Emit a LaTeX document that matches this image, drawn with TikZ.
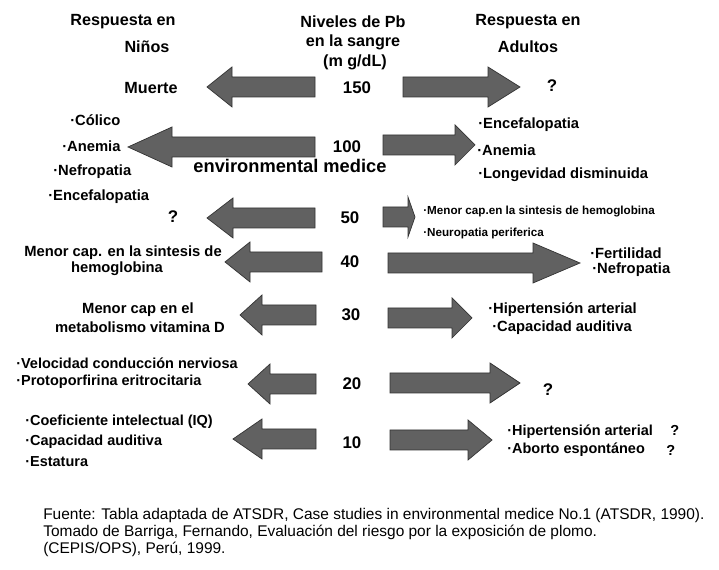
\documentclass[tikz,border=0pt]{standalone}
\usepackage{fontspec}
\setmainfont{Liberation Sans}
\usetikzlibrary{positioning}

\begin{document}
\begin{tikzpicture}[x=0.025cm,y=-0.025cm,every node/.style={inner sep=0pt}]

	\tikzstyle{title}=[font=\fontsize{11.5}{13}\selectfont\bfseries]
	\tikzstyle{level}=[font=\fontsize{12}{14}\selectfont\bfseries]
	\tikzstyle{item}=[font=\fontsize{10.5}{12}\selectfont\bfseries,anchor=west]
	\tikzstyle{small item}=[item,font=\fontsize{8.3}{10}\selectfont\bfseries]
	\tikzstyle{mid item}=[item,font=\fontsize{10.3}{11}\selectfont\bfseries]
	\tikzstyle{blockarrow}=[fill=black!62,draw=black!80,line width=0.5pt]

	\useasboundingbox (0,0) rectangle (719,570);

	% headings
	\node [title] (kids) at (123,22) {Respuesta en};
	\node [title] (kids2) at (147,47) {Niños};
	\node [title] (pb) at (353,22) {Niveles de Pb};
	\node [title] (pb2) at (353,42) {en la sangre};
	\node [title] (pb3) at (355,62) {(m g/dL)};
	\node [title] (adults) at (528,22) {Respuesta en};
	\node [title] (adults2) at (528,47) {Adultos};

	% levels
	\node [level] (l150) at (357,88) {150};
	\node [level] (l100) at (347,147) {100};
	\node [level] (l50) at (350,218) {50};
	\node [level] (l40) at (350,262) {40};
	\node [level] (l30) at (351,315) {30};
	\node [level] (l20) at (352,384) {20};
	\node [level] (l10) at (352,443) {10};
	\node [level,font=\fontsize{13}{15}\selectfont\bfseries] (env) at (290,166) {environmental medice};

	% block arrows: tail/neck/tip/y
	\foreach \t/\n/\p/\y in {315/232/207/87, 315/172/128/147, 315/233/207/218,
		322/250/225/262, 316/262/240/315, 316/270/248/384, 316/262/233/439,
		403/488/520/87, 383/455/475/145, 383/408/415/217, 388/533/580/263,
		388/452/472/318, 390/490/520/383, 390/468/492/440}
		\filldraw [blockarrow] (\t,\y-10) -- (\n,\y-10) -- (\n,\y-20) -- (\p,\y)
			-- (\n,\y+20) -- (\n,\y+10) -- (\t,\y+10) -- cycle;

	% children
	\node [title] (death) at (151,88) {Muerte};
	\node [item] (colic) at (70,120) {·Cólico};
	\node [item] (anemia) at (62,146) {·Anemia};
	\node [item] (nephro) at (53,172) {·Nefropatia};
	\node [item] (enceph) at (48,197) {·Encefalopatia};
	\node [level] (q50) at (173,217) {?};
	\node [item,anchor=center] (hemo) at (123,253) {Menor cap. en la sintesis de};
	\node [item,anchor=center] (hemo2) at (117,269) {hemoglobina};
	\node [item,anchor=center] (vitd) at (138,310) {Menor cap en el};
	\node [item,anchor=center] (vitd2) at (140,327) {metabolismo vitamina D};
	\node [mid item] (nerve) at (16,363) {·Velocidad conducción nerviosa};
	\node [mid item] (proto) at (16,382) {·Protoporfirina eritrocitaria};
	\node [mid item] (iq) at (25,422) {·Coeficiente intelectual (IQ)};
	\node [mid item] (hear) at (25,442) {·Capacidad auditiva};
	\node [mid item] (height) at (25,462) {·Estatura};

	% adults
	\node [level] (q150) at (552,86) {?};
	\node [item] (aenceph) at (478,125) {·Encefalopatia};
	\node [item] (aanemia) at (477,150) {·Anemia};
	\node [item] (life) at (478,175) {·Longevidad disminuida};
	\node [small item] (ahemo) at (423,212) {·Menor cap.en la sintesis de hemoglobina};
	\node [small item] (neuro) at (423,233) {·Neuropatia periferica};
	\node [item] (fert) at (590,253) {·Fertilidad};
	\node [item] (anephro) at (592,270) {·Nefropatia};
	\node [item] (hyper) at (488,310) {·Hipertensión arterial};
	\node [item] (ahear) at (492,328) {·Capacidad auditiva};
	\node [level] (q20) at (548,390) {?};
	\node [mid item] (hyper2) at (507,432) {·Hipertensión arterial};
	\node [mid item] (abort) at (507,450) {·Aborto espontáneo};
	\node [mid item] (qh) at (670,430) {?};
	\node [mid item] (qa) at (666,450) {?};

	% source
	\node [anchor=north west,align=left,font=\fontsize{11}{12.2}\selectfont] (src) at (43,508)
		{Fuente: Tabla  adaptada de ATSDR, Case studies in environmental medice No.1 (ATSDR, 1990).\\
		Tomado de Barriga, Fernando, Evaluación del riesgo por la exposición de plomo.\\
		(CEPIS/OPS), Perú, 1999.};

\end{tikzpicture}
\end{document}
